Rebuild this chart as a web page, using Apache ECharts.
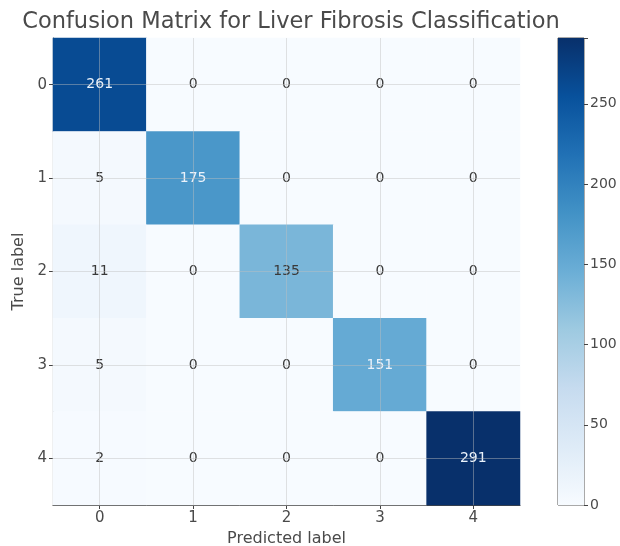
<!DOCTYPE html>
<html>
<head>
<meta charset="utf-8">
<script src="https://cdn.jsdelivr.net/npm/echarts@6/dist/echarts.min.js"></script>
<style>html,body{margin:0;padding:0;background:#fff}#c{width:620px;height:546px}</style>
</head>
<body>
<div id="c"></div>
<script>
var predictedLabels = ['0', '1', '2', '3', '4'];
var trueLabels = ['0', '1', '2', '3', '4'];
var row0 = [261, 0, 0, 0, 0];
var row1 = [5, 175, 0, 0, 0];
var row2 = [11, 0, 135, 0, 0];
var row3 = [5, 0, 0, 151, 0];
var row4 = [2, 0, 0, 0, 291];
var matrix = [row0, row1, row2, row3, row4];
var colorbarTicks = [0, 50, 100, 150, 200, 250];
var blues = ['#f7fbff', '#deebf7', '#c6dbef', '#9ecae1', '#6baed6', '#4292c6', '#2171b5', '#08519c', '#08306b'];

var vmax = 291;
var data = [];
matrix.forEach(function (row, i) {
  row.forEach(function (v, j) {
    data.push({
      value: [j, i, v],
      label: { color: v > vmax / 2 ? '#eaf2fb' : '#3a3a3a' }
    });
  });
});

var gridLineStyle = { color: 'rgba(190,190,190,0.45)', width: 1, type: 'solid' };
var markData = [];
predictedLabels.forEach(function (c) { markData.push({ xAxis: c }); });
trueLabels.forEach(function (c) { markData.push({ yAxis: c }); });

var stops = blues.map(function (c, k) { return { offset: k / (blues.length - 1), color: c }; });

var chart = echarts.init(document.getElementById('c'));
chart.setOption({
  animation: false,
  backgroundColor: '#ffffff',
  textStyle: { fontFamily: 'DejaVu Sans' },
  title: {
    text: 'Confusion Matrix for Liver Fibrosis Classification',
    left: 286, top: 6, textAlign: 'center',
    textStyle: { fontSize: 22.5, fontWeight: 'normal', color: '#4a4a4a', fontFamily: 'DejaVu Sans' }
  },
  grid: [
    { left: 53, top: 38, width: 467, height: 467, outerBoundsMode: 'none', containLabel: false },
    { left: 558, top: 38, width: 26, height: 467, outerBoundsMode: 'none', containLabel: false,
      show: true, borderColor: '#555', borderWidth: 1, backgroundColor: 'transparent' }
  ],
  xAxis: [
    {
      type: 'category', data: predictedLabels, gridIndex: 0,
      name: 'Predicted label', nameLocation: 'middle', nameGap: 26,
      nameTextStyle: { fontSize: 16, color: '#4a4a4a' },
      axisLine: { show: true, lineStyle: { color: '#444', width: 1.2 } },
      axisTick: { show: true, alignWithLabel: true, length: 4, lineStyle: { color: '#444' } },
      axisLabel: { fontSize: 15, color: '#4a4a4a', margin: 6 },
      splitLine: { show: false }
    },
    {
      type: 'category', data: ['c'], gridIndex: 1, show: false
    }
  ],
  yAxis: [
    {
      type: 'category', data: trueLabels, gridIndex: 0, inverse: true,
      name: 'True label', nameLocation: 'middle', nameGap: 23,
      nameTextStyle: { fontSize: 16, color: '#4a4a4a' },
      axisLine: { show: true, lineStyle: { color: '#444', width: 1.2 } },
      axisTick: { show: true, alignWithLabel: true, length: 4, lineStyle: { color: '#444' } },
      axisLabel: { fontSize: 15, color: '#4a4a4a', margin: 6 },
      splitLine: { show: false }
    },
    {
      type: 'value', gridIndex: 1, min: 0, max: vmax, interval: 50, position: 'right',
      axisLine: { show: false },
      axisTick: { show: true, length: 4, inside: false, lineStyle: { color: '#444' } },
      axisLabel: {
        fontSize: 14, color: '#4a4a4a', margin: 6,
        formatter: function (v) { return colorbarTicks.indexOf(v) >= 0 ? String(v) : ''; }
      },
      splitLine: { show: false }
    }
  ],
  visualMap: {
    type: 'continuous', show: false, min: 0, max: vmax, seriesIndex: 0, dimension: 2,
    inRange: { color: blues }
  },
  series: [
    {
      type: 'heatmap', xAxisIndex: 0, yAxisIndex: 0, data: data,
      label: { show: true, fontSize: 14 },
      itemStyle: { borderWidth: 0 },
      emphasis: { disabled: true },
      markLine: {
        silent: true, symbol: ['none', 'none'], label: { show: false },
        lineStyle: gridLineStyle, data: markData, animation: false
      }
    },
    {
      type: 'bar', xAxisIndex: 1, yAxisIndex: 1, data: [vmax], barWidth: '100%', silent: true,
      itemStyle: { color: new echarts.graphic.LinearGradient(0, 1, 0, 0, stops) }
    }
  ]
});
</script>
</body>
</html>
